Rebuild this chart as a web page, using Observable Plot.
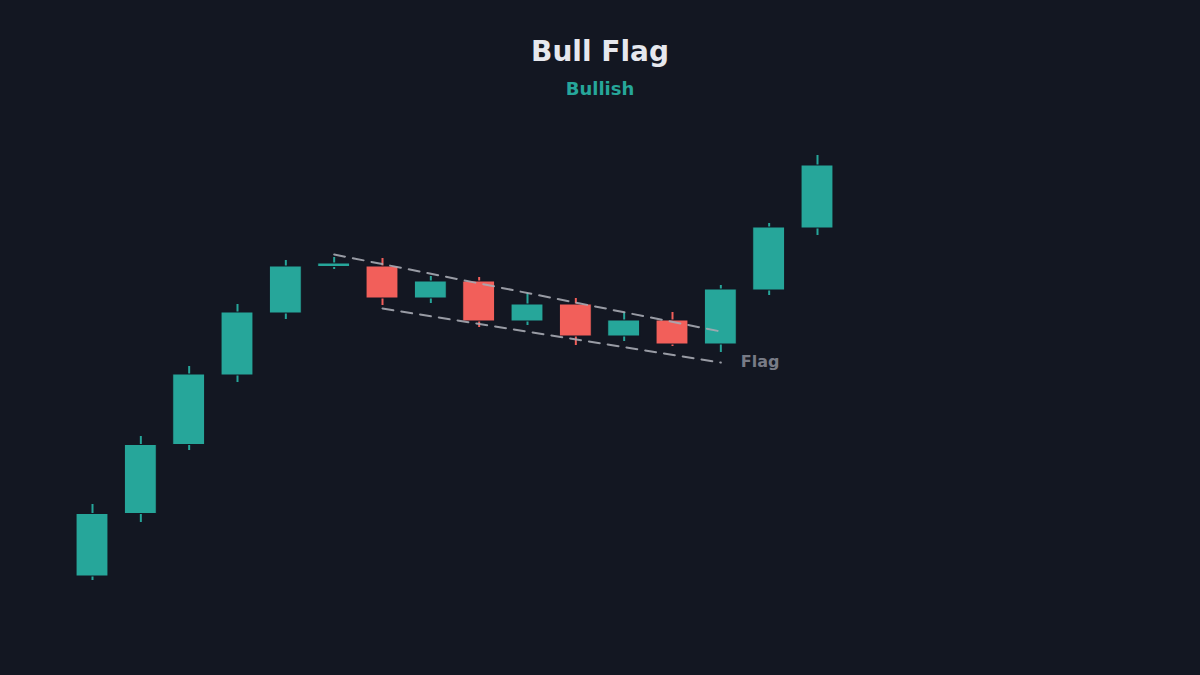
<!DOCTYPE html>
<html>
<head>
<meta charset="utf-8">
<script src="https://cdn.jsdelivr.net/npm/d3@7"></script>
<script src="https://cdn.jsdelivr.net/npm/@observablehq/plot@0.6"></script>
<style>
  html, body { margin: 0; padding: 0; background: #131722; width: 1200px; height: 675px; overflow: hidden; }
  #header { height: 110px; box-sizing: border-box; padding-top: 35px; text-align: center; font-family: "DejaVu Sans", sans-serif; font-weight: bold; }
  #title { font-size: 28px; line-height: 34px; color: #e6e8ee; }
  #subtitle { font-size: 18px; line-height: 22px; color: #26a69a; margin-top: 9px; }
  #chart svg { display: block; }
</style>
</head>
<body>
<div id="header">
  <div id="title">Bull Flag</div>
  <div id="subtitle">Bullish</div>
</div>
<div id="chart"></div>
<script>
const opens  = [19.8, 32.3, 46.1, 60.0, 72.4, 81.7, 81.8, 75.4, 78.8, 70.8, 74.2, 67.8, 71.0, 66.2, 77.0, 89.4];
const closes = [32.3, 46.1, 60.2, 72.6, 81.8, 82.4, 75.4, 78.8, 70.8, 74.2, 67.8, 71.0, 66.2, 77.2, 89.6, 102.0];
const highs  = [34.2, 47.8, 61.8, 74.2, 83.0, 83.6, 83.4, 79.8, 79.6, 76.4, 75.4, 72.6, 72.6, 78.0, 90.4, 104.0];
const lows   = [19.0, 30.6, 45.0, 58.6, 71.2, 81.2, 74.0, 74.4, 69.6, 70.0, 66.0, 66.8, 65.8, 64.6, 76.0, 88.0];

const upperLineX = [5, 13];
const upperLineY = [84.2, 68.8];
const lowerLineX = [6, 13];
const lowerLineY = [73.4, 62.6];
const flagLabel = "Flag";
const flagLabelX = 13;
const flagLabelY = 62.8;

const candles = opens.map((o, i) => ({
  i, open: o, close: closes[i], high: highs[i], low: lows[i],
  up: closes[i] >= o
}));
const upperLine = upperLineX.map((x, k) => ({x, y: upperLineY[k]}));
const lowerLine = lowerLineX.map((x, k) => ({x, y: lowerLineY[k]}));

const UP = "#26a69a", DOWN = "#f25f5a", BG = "#131722";

const chart = Plot.plot({
  width: 1200,
  height: 565,
  marginTop: 0,
  marginBottom: 0,
  marginLeft: 92,
  marginRight: 383,
  style: { background: BG, fontFamily: "DejaVu Sans, sans-serif" },
  x: { domain: [0, 15], axis: null },
  y: { domain: [0, 113], axis: null },
  marks: [
    Plot.ruleX(candles, { x: "i", y1: "low", y2: "high", stroke: d => d.up ? UP : DOWN, strokeWidth: 2 }),
    Plot.rect(candles, {
      x1: d => d.i - 0.33, x2: d => d.i + 0.33,
      y1: d => Math.min(d.open, d.close), y2: d => Math.max(d.open, d.close),
      fill: d => d.up ? UP : DOWN, stroke: BG, strokeWidth: 1, insetTop: 0, insetBottom: 0
    }),
    Plot.line(upperLine, { x: "x", y: "y", stroke: "#a7aab3", strokeOpacity: 0.9, strokeWidth: 2, strokeDasharray: "11,8" }),
    Plot.line(lowerLine, { x: "x", y: "y", stroke: "#a7aab3", strokeOpacity: 0.9, strokeWidth: 2, strokeDasharray: "11,8" }),
    Plot.text([flagLabel], { x: flagLabelX, y: flagLabelY, text: d => d, dx: 20, textAnchor: "start", fill: "#787b86", fontWeight: "bold", fontSize: 16 })
  ]
});
document.getElementById("chart").appendChild(chart);
</script>
</body>
</html>
